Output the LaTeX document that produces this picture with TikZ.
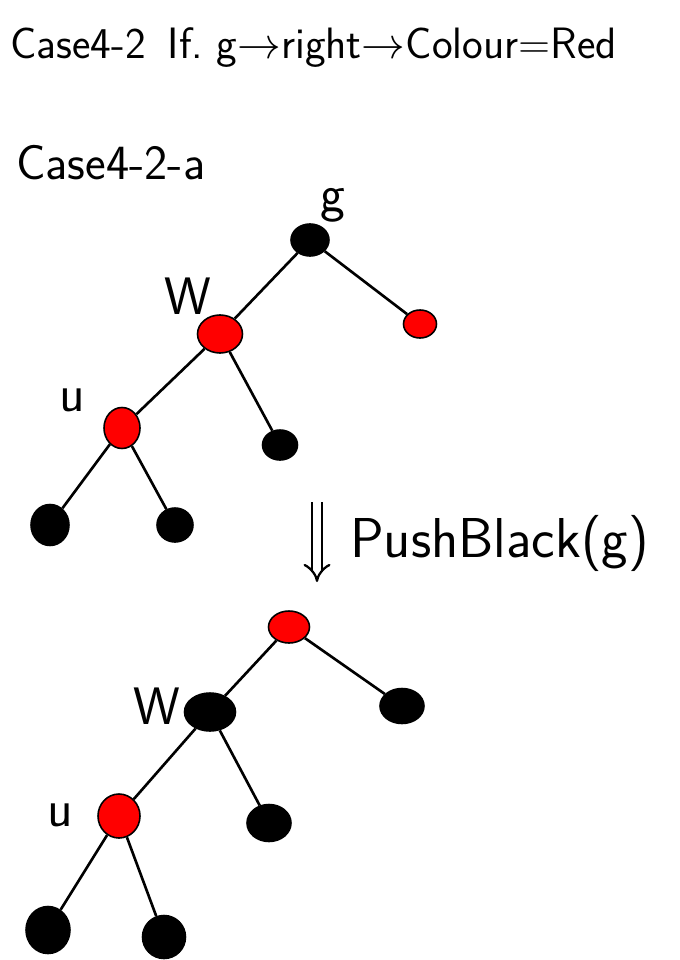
\documentclass[tikz,border=0pt]{standalone}
\usetikzlibrary{shapes.geometric,arrows.meta}
\tikzset{
  rednode/.style={ellipse, draw, line width=0.9pt, fill=red, inner sep=0pt},
  blacknode/.style={ellipse, draw, line width=0.9pt, fill=black, inner sep=0pt},
  hand/.style={font=\sffamily\fontsize{25}{29}\selectfont},
  lbl/.style={font=\sffamily\fontsize{30}{34}\selectfont},
  edge/.style={line width=1.5pt}
}
\begin{document}
\begin{tikzpicture}[x=0.2mm, y=-0.2mm]
  \useasboundingbox (0,0) rectangle (679,960);
  % titles
  \node[hand, anchor=west] (title) at (4,48) {Case4-2\enspace If.\ g$\rightarrow$right$\rightarrow$Colour=Red};
  \node[hand, font=\sffamily\fontsize{28}{32}\selectfont, anchor=west] (sub) at (10,163) {Case4-2-a};
  % before
  \node[blacknode, minimum width=7.6mm, minimum height=6.4mm] (g) at (310,240) {};
  \node[rednode, minimum width=6.6mm, minimum height=5.6mm] (gr) at (420,324) {};
  \node[rednode, minimum width=9mm, minimum height=7.6mm] (w) at (220,334) {};
  \node[rednode, minimum width=7.2mm, minimum height=8.2mm] (u) at (122,428) {};
  \node[blacknode, minimum width=7mm, minimum height=6mm] (wr) at (280,445) {};
  \node[blacknode, minimum width=7.6mm, minimum height=8.2mm] (ul) at (50,525) {};
  \node[blacknode, minimum width=7.2mm, minimum height=6.8mm] (ur) at (175,525) {};
  \node[lbl] (lg) at (333,205) {g};
  \node[lbl] (lw) at (188,296) {W};
  \node[lbl] (lu) at (72,400) {u};
  \draw[edge] (g) -- (w);
  \draw[edge] (g) -- (gr);
  \draw[edge] (w) -- (u);
  \draw[edge] (w) -- (wr);
  \draw[edge] (u) -- (ul);
  \draw[edge] (u) -- (ur);
  % push black
  \coordinate (atop) at (317,502);
  \coordinate (abot) at (317,582);
  \draw[line width=1.3pt, double, double distance=4pt, -{Implies}] (atop) -- (abot);
  \node[hand, font=\sffamily\fontsize{32}{36}\selectfont, anchor=west] (push) at (344,543) {PushBlack(g)};
  % after
  \node[rednode, minimum width=8.2mm, minimum height=6.4mm] (g2) at (289,627) {};
  \node[blacknode, minimum width=8.8mm, minimum height=7mm] (gr2) at (402,706) {};
  \node[blacknode, minimum width=10.2mm, minimum height=7.6mm] (w2) at (210,712) {};
  \node[rednode, minimum width=8.4mm, minimum height=8.8mm] (u2) at (119,816) {};
  \node[blacknode, minimum width=8.8mm, minimum height=7.4mm] (wr2) at (269,823) {};
  \node[blacknode, minimum width=8.8mm, minimum height=9.4mm] (ul2) at (48,930) {};
  \node[blacknode, minimum width=8.6mm, minimum height=8.6mm] (ur2) at (164,937) {};
  \node[lbl] (lw2) at (157,706) {W};
  \node[lbl] (lu2) at (60,815) {u};
  \draw[edge] (g2) -- (w2);
  \draw[edge] (g2) -- (gr2);
  \draw[edge] (w2) -- (u2);
  \draw[edge] (w2) -- (wr2);
  \draw[edge] (u2) -- (ul2);
  \draw[edge] (u2) -- (ur2);
\end{tikzpicture}
\end{document}
